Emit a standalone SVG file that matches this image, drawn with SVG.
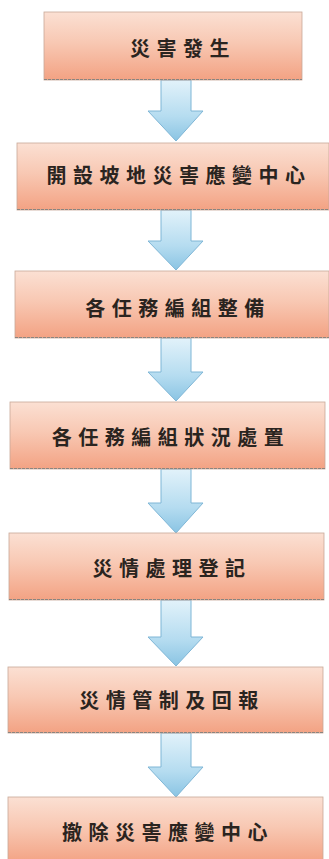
<svg xmlns="http://www.w3.org/2000/svg" width="329" height="859" viewBox="0 0 329 859">
<defs>
<linearGradient id="boxg" x1="0" y1="0" x2="0" y2="1">
<stop offset="0" stop-color="#fbe0d3"/>
<stop offset="0.45" stop-color="#f8c8b3"/>
<stop offset="1" stop-color="#f3a283"/>
</linearGradient>
<linearGradient id="arrg" x1="0" y1="0" x2="0" y2="1">
<stop offset="0" stop-color="#e2f2fa"/>
<stop offset="0.6" stop-color="#b5dcf0"/>
<stop offset="1" stop-color="#8ac4e3"/>
</linearGradient>
</defs>
<style>
.box{fill:url(#boxg);stroke:#c9a898;stroke-width:0.8}
.edge{stroke:#8a8580;stroke-width:1.2;stroke-dasharray:3 1}
.lbl{font-family:"Noto Sans CJK TC","Noto Sans CJK SC",sans-serif;font-size:20px;font-weight:700;fill:#2a2420;text-anchor:middle;letter-spacing:6.5px}
.arr{fill:url(#arrg);stroke:#7fb6d6;stroke-width:1}
</style>
<rect width="329" height="859" fill="#ffffff"/>
<g id="connectors">
<path class="arr" d="M161,80 H191 V111 H203 L176,141 L148,111 H161 Z"/>
<path class="arr" d="M161,210 H191 V241 H203 L176,270 L148,241 H161 Z"/>
<path class="arr" d="M161,338 H191 V372 H203 L176,401 L148,372 H161 Z"/>
<path class="arr" d="M161,469 H191 V503 H203 L176,533 L148,503 H161 Z"/>
<path class="arr" d="M161,600 H191 V637 H203 L176,666 L148,637 H161 Z"/>
<path class="arr" d="M161,733 H191 V767 H203 L176,797 L148,767 H161 Z"/>
</g>
<g id="n1">
<rect class="box" x="44" y="12" width="258" height="68"/>
<line class="edge" x1="44" y1="79.5" x2="302" y2="79.5"/>
<text class="lbl" x="183" y="56">災害發生</text>
</g>
<g id="n2">
<rect class="box" x="17" y="143" width="312" height="67"/>
<line class="edge" x1="17" y1="209.5" x2="329" y2="209.5"/>
<text class="lbl" x="179" y="183">開設坡地災害應變中心</text>
</g>
<g id="n3">
<rect class="box" x="15" y="271" width="314" height="67"/>
<line class="edge" x1="15" y1="337.5" x2="329" y2="337.5"/>
<text class="lbl" x="178" y="316">各任務編組整備</text>
</g>
<g id="n4">
<rect class="box" x="10" y="402" width="315" height="67"/>
<line class="edge" x1="10" y1="468.5" x2="325" y2="468.5"/>
<text class="lbl" x="171" y="445">各任務編組狀況處置</text>
</g>
<g id="n5">
<rect class="box" x="9" y="533" width="315" height="67"/>
<line class="edge" x1="9" y1="599.5" x2="324" y2="599.5"/>
<text class="lbl" x="172" y="576">災情處理登記</text>
</g>
<g id="n6">
<rect class="box" x="8" y="667" width="315" height="66"/>
<line class="edge" x1="8" y1="732.5" x2="323" y2="732.5"/>
<text class="lbl" x="172" y="708">災情管制及回報</text>
</g>
<g id="n7">
<rect class="box" x="8" y="797" width="315" height="66"/>
<text class="lbl" x="168" y="840">撤除災害應變中心</text>
</g>
</svg>
